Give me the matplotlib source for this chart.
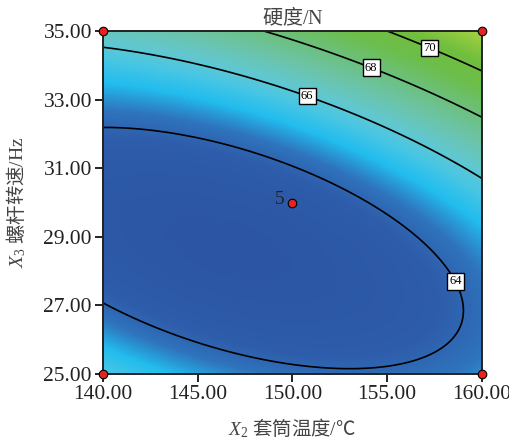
import numpy as np
import matplotlib
matplotlib.use('Agg')
import matplotlib.pyplot as plt
from matplotlib.colors import LinearSegmentedColormap

plt.rcParams['mathtext.fontset'] = 'custom'
plt.rcParams['mathtext.rm'] = 'Liberation Serif'
plt.rcParams['mathtext.it'] = 'Liberation Serif:italic'

# quadratic response model in coded units: A = (X2-150)/10, B = (X3-30)/5
model_terms = ['const', 'A', 'B', 'AB', 'A2', 'B2']
model_coef = [63.425, 1.074, 2.100, 1.677, 0.914, 2.868]

x2_range = [140.0, 160.0]
x3_range = [25.0, 35.0]
levels = [64, 66, 68, 70]
label_pos = [(158.6, 27.7), (150.8, 33.15), (154.2, 34.0), (157.3, 34.6)]

# design points on this face
design_x2 = [140, 160, 140, 160, 150]
design_x3 = [25, 25, 35, 35, 30]

xticks = [140, 145, 150, 155, 160]
yticks = [25, 27, 29, 31, 33, 35]

cmap_vals = [62.9, 63.8, 64.3, 64.95, 65.6, 66.2, 67.1, 68.1, 69.2, 70.4, 72.1]
cmap_cols = ['#2c56a4', '#2e5dab', '#2f74bd', '#22bdee', '#48c6e4', '#62c8d0',
             '#6cc4a6', '#6cc07a', '#6cbe4c', '#70be3e', '#a6d243']


def response(x2, x3):
    c = dict(zip(model_terms, model_coef))
    a = (x2 - 150.0) / 10.0
    b = (x3 - 30.0) / 5.0
    return (c['const'] + c['A'] * a + c['B'] * b + c['AB'] * a * b
            + c['A2'] * a * a + c['B2'] * b * b)


serif = ['Liberation Serif', 'DejaVu Serif']
cjk = 'Noto Sans CJK SC'

fig = plt.figure(figsize=(5.1, 4.45), dpi=100)
ax = fig.add_axes([0.202, 0.1596, 0.743, 0.7706])

gx = np.linspace(*x2_range, 300)
gy = np.linspace(*x3_range, 300)
X, Y = np.meshgrid(gx, gy)
Z = response(X, Y)

lo, hi = cmap_vals[0], cmap_vals[-1]
stops = [((v - lo) / (hi - lo), c) for v, c in zip(cmap_vals, cmap_cols)]
cmap = LinearSegmentedColormap.from_list('de', stops)

ax.imshow(Z, origin='lower', extent=x2_range + x3_range, aspect='auto',
          cmap=cmap, vmin=lo, vmax=hi, interpolation='bilinear')
cs = ax.contour(X, Y, Z, levels=levels, colors='black', linewidths=1.2)
labels = ax.clabel(cs, fmt='%d', inline=False, fontsize=9, manual=label_pos)
for t in labels:
    t.set_family(serif)
    t.set_rotation(0)
    t.set_bbox(dict(facecolor='white', edgecolor='black', linewidth=1.0,
                    boxstyle='square,pad=0.18'))

ax.scatter(design_x2, design_x3, s=38, color='#e8231f', edgecolors='black',
           linewidths=0.8, zorder=5, clip_on=False)
ax.text(149.6, 30.1, '5', fontsize=14, family=serif, ha='right', va='center',
        color='#222222')

ax.set_xlim(*x2_range)
ax.set_ylim(*x3_range)
ax.set_xticks(xticks)
ax.set_yticks(yticks)
ax.set_xticklabels([f'{v:.2f}' for v in xticks], family=serif, fontsize=15.5)
ax.set_yticklabels([f'{v:.2f}' for v in yticks], family=serif, fontsize=15.5)
ax.tick_params(direction='out', length=6, width=1.4, color='#222222', pad=2,
               labelcolor='#222222')
for s in ax.spines.values():
    s.set_linewidth(1.4)
    s.set_color('#222222')

ax.set_title('硬度$\\mathrm{/N}$', family=cjk, fontsize=14.5, color='#444444', pad=5)
ax.set_xlabel('$X_2$ 套筒温度$\\mathrm{/}$℃', family=cjk, fontsize=14,
              color='#444444', labelpad=9)
ax.set_ylabel('$X_3$ 螺杆转速$\\mathrm{/Hz}$', family=cjk, fontsize=14,
              color='#444444', labelpad=11)

fig.savefig('out.png')
